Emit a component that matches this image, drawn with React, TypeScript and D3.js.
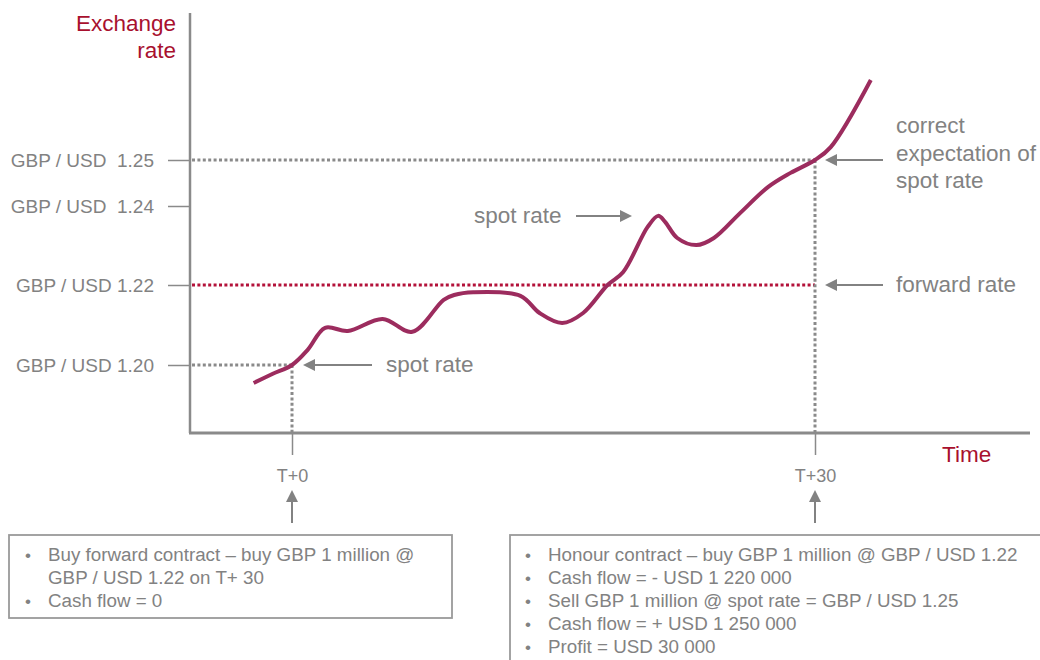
import { useEffect, useRef } from "react";
import * as d3 from "d3";

// spot rate path (day relative to T+0, GBP/USD)
const days = [
  -2.2, -1.1, 0, 0.9, 1.9, 3.2, 5.2, 6.9, 8.7, 9.3, 10.4, 13.1, 14.2, 15.5,
  16.7, 18.1, 19.0, 20.4, 21.0, 21.4, 22.1, 23.2, 24.2, 25.7, 27.3, 28.6, 30,
  30.9, 33.2,
];
const spotRates = [
  1.1955, 1.1978, 1.2, 1.2038, 1.2093, 1.2085, 1.2115, 1.2083, 1.2163, 1.2175,
  1.2182, 1.2173, 1.213, 1.2105, 1.213, 1.22, 1.2233, 1.2347, 1.2375, 1.236,
  1.2319, 1.2301, 1.2319, 1.2382, 1.2441, 1.2472, 1.25, 1.2528, 1.2674,
];

const rateTicks = [1.25, 1.24, 1.22, 1.2];
const rateTickLabels = [
  "GBP / USD  1.25",
  "GBP / USD  1.24",
  "GBP / USD 1.22",
  "GBP / USD 1.20",
];
const dayTicks = [0, 30];
const dayTickLabels = ["T+0", "T+30"];

const spotAtStart = 1.2;
const forwardRate = 1.22;
const spotAtEnd = 1.25;

const leftBoxLines = [
  { bullet: true, text: "Buy forward contract \u2013 buy GBP 1 million @" },
  { bullet: false, text: "GBP / USD 1.22 on T+ 30" },
  { bullet: true, text: "Cash flow = 0" },
];
const rightBoxLines = [
  "Honour contract \u2013 buy GBP 1 million @ GBP / USD 1.22",
  "Cash flow = - USD 1 220 000",
  "Sell GBP 1 million @ spot rate = GBP / USD 1.25",
  "Cash flow = + USD 1 250 000",
  "Profit = USD 30 000",
];

const FONT = "'Liberation Sans', Arial, Helvetica, sans-serif";
const GREY = "#828282";
const AXIS = "#8a8a8a";
const RED = "#a8102e";
const FWD = "#b3123a";
const CURVE = "#9c2c5e";

export default function App() {
  const svgRef = useRef<SVGSVGElement>(null);

  useEffect(() => {
    if (!svgRef.current) return;
    const svg = d3.select(svgRef.current);
    svg.selectAll("*").remove();

    const x = d3.scaleLinear().domain([0, 30]).range([292, 815]);
    // the diagram spaces the rate levels unevenly, so piecewise
    const y = d3
      .scaleLinear()
      .domain([1.2, 1.22, 1.24, 1.25])
      .range([365, 285, 206, 160]);

    const frame = { left: 190, top: 13, bottom: 433, right: 1030 };

    // frame
    svg
      .append("line")
      .attr("x1", frame.left)
      .attr("x2", frame.left)
      .attr("y1", frame.top)
      .attr("y2", frame.bottom)
      .attr("stroke", AXIS)
      .attr("stroke-width", 2.5);
    svg
      .append("line")
      .attr("x1", frame.left - 1)
      .attr("x2", frame.right)
      .attr("y1", frame.bottom)
      .attr("y2", frame.bottom)
      .attr("stroke", AXIS)
      .attr("stroke-width", 3);

    // y axis ticks
    svg
      .append("g")
      .attr("transform", `translate(${frame.left},0)`)
      .call(
        d3
          .axisLeft(y)
          .tickValues(rateTicks)
          .tickSize(22)
          .tickPadding(14)
          .tickFormat((_, i) => rateTickLabels[i])
      )
      .call((axis) => {
        axis.select(".domain").remove();
        axis.selectAll("line").attr("stroke", AXIS).attr("stroke-width", 1.5);
        axis
          .selectAll("text")
          .attr("fill", GREY)
          .attr("font-size", "19px")
          .attr("font-family", FONT)
          .style("white-space", "pre");
      });

    // x axis ticks
    svg
      .append("g")
      .attr("transform", `translate(0,${frame.bottom})`)
      .call(
        d3
          .axisBottom(x)
          .tickValues(dayTicks)
          .tickSize(22)
          .tickPadding(14)
          .tickFormat((_, i) => dayTickLabels[i])
      )
      .call((axis) => {
        axis.select(".domain").remove();
        axis.selectAll("line").attr("stroke", AXIS).attr("stroke-width", 1.5);
        axis
          .selectAll("text")
          .attr("fill", GREY)
          .attr("font-size", "18px")
          .attr("font-family", FONT);
      });

    // dotted guides
    const dotted = (
      x1: number,
      y1: number,
      x2: number,
      y2: number,
      color: string
    ) =>
      svg
        .append("line")
        .attr("x1", x1)
        .attr("y1", y1)
        .attr("x2", x2)
        .attr("y2", y2)
        .attr("stroke", color)
        .attr("stroke-width", 3)
        .attr("stroke-dasharray", "3 2.4");

    dotted(frame.left + 2, y(spotAtEnd), x(30), y(spotAtEnd), AXIS);
    dotted(frame.left + 2, y(spotAtStart), x(0), y(spotAtStart), AXIS);
    dotted(frame.left + 2, y(forwardRate), x(30), y(forwardRate), FWD);
    dotted(x(0), y(spotAtStart), x(0), frame.bottom - 1, AXIS);
    dotted(x(30), y(spotAtEnd), x(30), frame.bottom - 1, AXIS);

    // spot rate curve
    const line = d3
      .line<number>()
      .x((_, i) => x(days[i]))
      .y((d) => y(d))
      .curve(d3.curveCatmullRom.alpha(0.5));
    svg
      .append("path")
      .attr("d", line(spotRates))
      .attr("fill", "none")
      .attr("stroke", CURVE)
      .attr("stroke-width", 4)
      .attr("stroke-linecap", "butt");

    // arrows
    const arrow = (x1: number, y1: number, x2: number, y2: number) => {
      const ang = Math.atan2(y2 - y1, x2 - x1);
      const len = 12;
      const half = 6;
      const bx = x2 - len * Math.cos(ang);
      const by = y2 - len * Math.sin(ang);
      svg
        .append("line")
        .attr("x1", x1)
        .attr("y1", y1)
        .attr("x2", bx)
        .attr("y2", by)
        .attr("stroke", GREY)
        .attr("stroke-width", 2);
      const px = -Math.sin(ang) * half;
      const py = Math.cos(ang) * half;
      svg
        .append("path")
        .attr(
          "d",
          `M${x2},${y2}L${bx + px},${by + py}L${bx - px},${by - py}Z`
        )
        .attr("fill", GREY);
    };

    arrow(372, y(spotAtStart), x(0) + 11, y(spotAtStart));
    arrow(576, 216, 632, 216);
    arrow(883, y(spotAtEnd), x(30) + 10, y(spotAtEnd));
    arrow(883, y(forwardRate), x(30) + 10, y(forwardRate));
    arrow(x(0), 523, x(0), 490);
    arrow(x(30), 523, x(30), 490);

    // annotations
    const label = (
      tx: number,
      ty: number,
      text: string,
      color = GREY,
      anchor = "start"
    ) =>
      svg
        .append("text")
        .attr("x", tx)
        .attr("y", ty)
        .attr("fill", color)
        .attr("font-size", "22.5px")
        .attr("font-family", FONT)
        .attr("text-anchor", anchor)
        .text(text);

    label(386, y(spotAtStart) + 7, "spot rate");
    label(474, 223, "spot rate");
    label(896, y(forwardRate) + 7, "forward rate");
    label(896, 133, "correct");
    label(896, 160.5, "expectation of");
    label(896, 188, "spot rate");
    label(176, 31, "Exchange", RED, "end");
    label(176, 58, "rate", RED, "end");
    label(942, 462, "Time", RED);

    // boxes
    const box = (bx: number, by: number, bw: number, bh: number) =>
      svg
        .append("rect")
        .attr("x", bx)
        .attr("y", by)
        .attr("width", bw)
        .attr("height", bh)
        .attr("fill", "#fff")
        .attr("stroke", "#9a9a9a")
        .attr("stroke-width", 1.8);

    const boxText = (
      bx: number,
      by: number,
      text: string,
      bullet: boolean
    ) => {
      if (bullet)
        svg
          .append("text")
          .attr("x", bx)
          .attr("y", by)
          .attr("fill", GREY)
          .attr("font-size", "17px")
          .attr("font-family", FONT)
          .text("\u2022");
      svg
        .append("text")
        .attr("x", bx + 23)
        .attr("y", by)
        .attr("fill", GREY)
        .attr("font-size", "18.8px")
        .attr("font-family", FONT)
        .text(text);
    };

    box(9, 535, 443, 83);
    leftBoxLines.forEach((l, i) => boxText(25, 561 + i * 23, l.text, l.bullet));

    box(510, 535, 545, 140);
    rightBoxLines.forEach((t, i) => boxText(525, 561 + i * 23, t, true));
  }, []);

  return (
    <svg
      ref={svgRef}
      width={1040}
      height={660}
      style={{ position: "absolute", left: 0, top: 0, background: "#fff" }}
    />
  );
}
